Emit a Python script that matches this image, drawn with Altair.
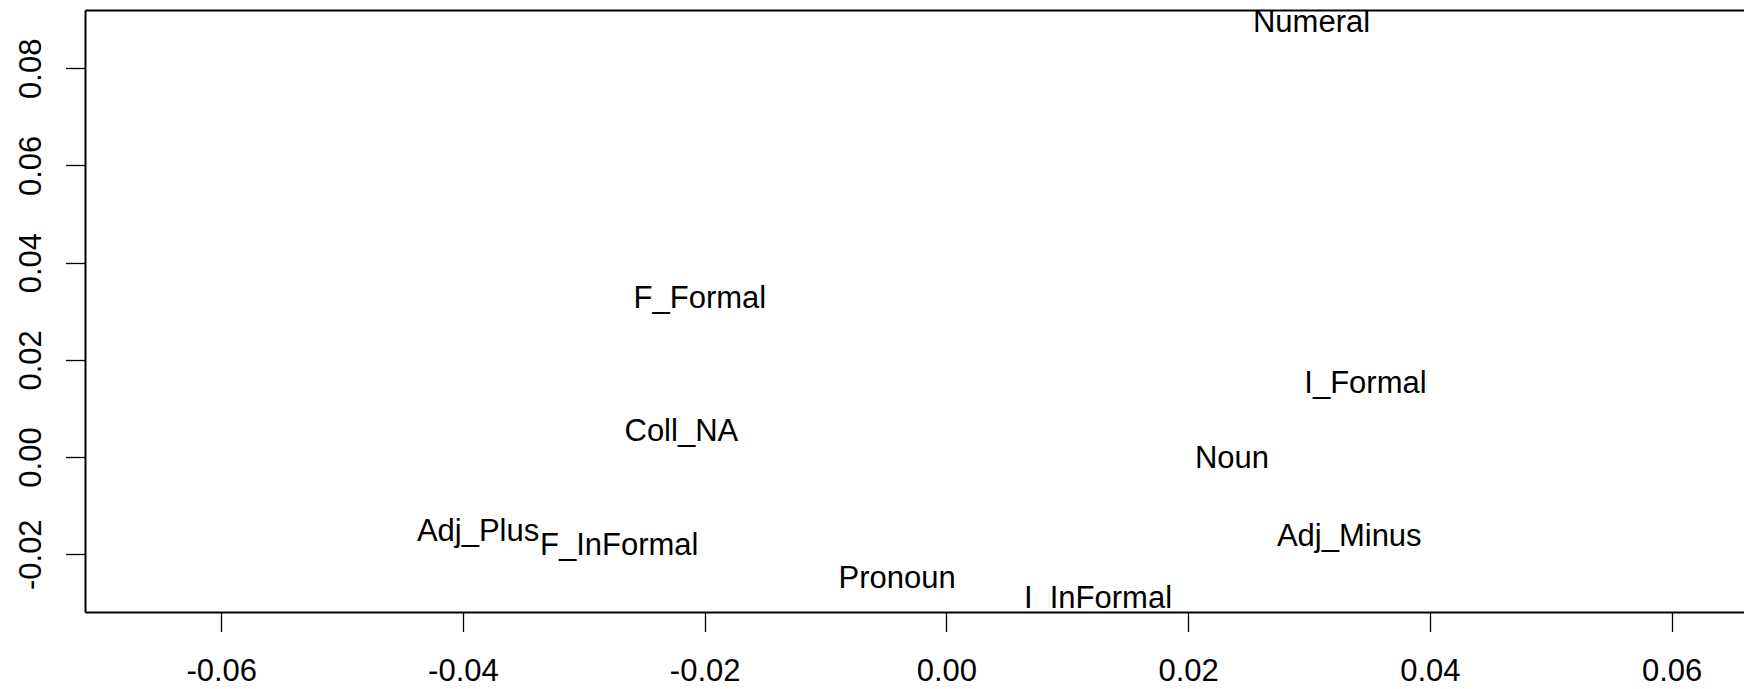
import altair as alt
import pandas as pd

labels = ["Numeral", "F_Formal", "I_Formal", "Coll_NA", "Noun",
          "Adj_Plus", "F_InFormal", "Adj_Minus", "Pronoun", "I_InFormal"]
dim1 = [0.03021, -0.02040, 0.03467, -0.02193, 0.02363,
        -0.03875, -0.02707, 0.03333, -0.00407, 0.01254]
dim2 = [0.08930, 0.03247, 0.01508, 0.00525, -0.00035,
        -0.01537, -0.01825, -0.01646, -0.02504, -0.02916]

x_ticks = [-0.06, -0.04, -0.02, 0.00, 0.02, 0.04, 0.06]
y_ticks = [-0.02, 0.00, 0.02, 0.04, 0.06, 0.08]
x_domain = [-0.07127, 0.06599]
y_domain = [-0.03189, 0.09198]

df = pd.DataFrame({"label": labels, "d1": dim1, "d2": dim2})

FONT = "Liberation Sans"
FS = 31
LABEL_EXPR = "replace(format(datum.value, '.2f'), '\u2212', '-')"

xscale = alt.Scale(domain=x_domain, nice=False, zero=False)
yscale = alt.Scale(domain=y_domain, nice=False, zero=False)

text = alt.Chart(df).mark_text(
    font=FONT, fontSize=FS, color="black", align="center",
    baseline="middle", clip=True
).encode(
    x=alt.X("d1:Q", scale=xscale, axis=alt.Axis(
        orient="bottom", values=x_ticks, labelExpr=LABEL_EXPR, title=None,
        grid=False, domainColor="black", domainWidth=2,
        tickColor="black", tickWidth=1.3, tickSize=19.5,
        labelFont=FONT, labelFontSize=FS, labelColor="black",
        labelBaseline="alphabetic", labelPadding=48.5,
        labelOverlap=False, labelFlush=False)),
    y=alt.Y("d2:Q", scale=yscale, axis=alt.Axis(
        orient="left", values=y_ticks, labelExpr=LABEL_EXPR, title=None,
        grid=False, domainColor="black", domainWidth=2,
        tickColor="black", tickWidth=1.3, tickSize=19.5,
        labelFont=FONT, labelFontSize=FS, labelColor="black",
        labelAngle=270, labelAlign="center", labelBaseline="alphabetic",
        labelPadding=25.5, labelOverlap=False, labelFlush=False)),
    text="label:N",
)

top = alt.Chart(df).mark_point(opacity=0).encode(
    x=alt.X("d1:Q", scale=xscale, axis=alt.Axis(
        orient="top", labels=False, ticks=False, grid=False, title=None,
        domainColor="black", domainWidth=2)),
)

chart = alt.layer(text, top).resolve_axis(x="independent").properties(
    width=1659, height=602,
    autosize=alt.AutoSizeParams(type="none"),
    padding={"left": 77, "top": 2, "right": 0, "bottom": 75},
    background="white",
).configure_view(stroke=None)

chart.save("out.html", embed_options={"renderer": "svg", "actions": False})
